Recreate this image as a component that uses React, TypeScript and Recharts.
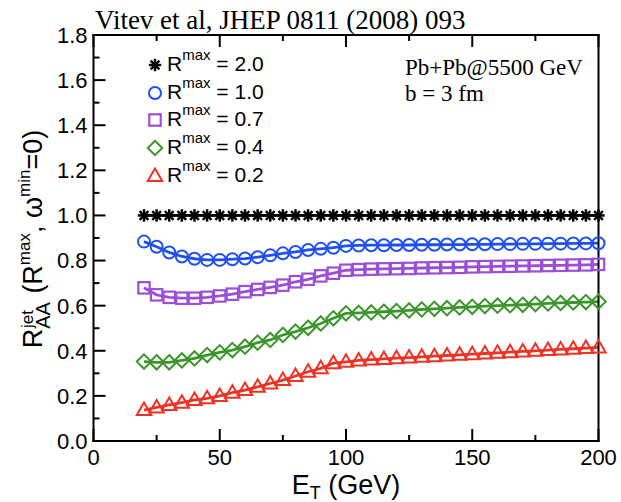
import React from 'react';
import { LineChart, Line, XAxis, YAxis, Legend, Customized } from 'recharts';

// ---- data ----
const energies = [20, 25, 30, 35, 40, 45, 50, 55, 60, 65, 70, 75, 80, 85, 90, 95, 100, 105, 110, 115, 120, 125, 130, 135, 140, 145, 150, 155, 160, 165, 170, 175, 180, 185, 190, 195, 200];

const rmax20 = [1.0, 1.0, 1.0, 1.0, 1.0, 1.0, 1.0, 1.0, 1.0, 1.0, 1.0, 1.0, 1.0, 1.0, 1.0, 1.0, 1.0, 1.0, 1.0, 1.0, 1.0, 1.0, 1.0, 1.0, 1.0, 1.0, 1.0, 1.0, 1.0, 1.0, 1.0, 1.0, 1.0, 1.0, 1.0, 1.0, 1.0];
const rmax10 = [0.884, 0.861, 0.836, 0.818, 0.808, 0.803, 0.803, 0.806, 0.809, 0.815, 0.823, 0.832, 0.838, 0.847, 0.852, 0.857, 0.865, 0.867, 0.868, 0.868, 0.869, 0.869, 0.870, 0.870, 0.871, 0.871, 0.872, 0.872, 0.873, 0.873, 0.874, 0.874, 0.875, 0.875, 0.876, 0.876, 0.877];
const rmax07 = [0.679, 0.648, 0.637, 0.633, 0.633, 0.637, 0.643, 0.651, 0.662, 0.672, 0.681, 0.691, 0.706, 0.717, 0.732, 0.744, 0.757, 0.760, 0.762, 0.763, 0.764, 0.765, 0.767, 0.768, 0.769, 0.770, 0.772, 0.773, 0.774, 0.775, 0.776, 0.777, 0.778, 0.779, 0.780, 0.781, 0.783];
const rmax04 = [0.352, 0.349, 0.349, 0.357, 0.366, 0.381, 0.393, 0.403, 0.418, 0.436, 0.448, 0.470, 0.485, 0.502, 0.521, 0.544, 0.566, 0.568, 0.570, 0.573, 0.576, 0.579, 0.583, 0.586, 0.589, 0.592, 0.595, 0.598, 0.600, 0.602, 0.604, 0.607, 0.610, 0.612, 0.614, 0.616, 0.618];
const rmax02 = [0.137, 0.149, 0.160, 0.170, 0.182, 0.189, 0.200, 0.214, 0.226, 0.240, 0.255, 0.270, 0.288, 0.307, 0.322, 0.345, 0.351, 0.357, 0.361, 0.364, 0.367, 0.370, 0.373, 0.376, 0.379, 0.382, 0.385, 0.388, 0.391, 0.394, 0.397, 0.400, 0.403, 0.406, 0.409, 0.412, 0.415];

const xTicks = [0, 25, 50, 75, 100, 125, 150, 175, 200];
const xLabelTicks = [0, 50, 100, 150, 200];
const yTicks = [0, 0.1, 0.2, 0.3, 0.4, 0.5, 0.6, 0.7, 0.8, 0.9, 1.0, 1.1, 1.2, 1.3, 1.4, 1.5, 1.6, 1.7, 1.8];
const yLabelTicks = [0, 0.2, 0.4, 0.6, 0.8, 1.0, 1.2, 1.4, 1.6, 1.8];

const seriesLabels = ['2.0', '1.0', '0.7', '0.4', '0.2'];

const series = [
  { key: 'r20', values: rmax20, label: seriesLabels[0], color: '#000000', shape: 'star' },
  { key: 'r10', values: rmax10, label: seriesLabels[1], color: '#1f4ff0', shape: 'circle' },
  { key: 'r07', values: rmax07, label: seriesLabels[2], color: '#9b4fd8', shape: 'square' },
  { key: 'r04', values: rmax04, label: seriesLabels[3], color: '#3a962a', shape: 'diamond' },
  { key: 'r02', values: rmax02, label: seriesLabels[4], color: '#ee3324', shape: 'triangle' },
];

const data = energies.map((e, i) => {
  const row: any = { e };
  series.forEach((s) => { row[s.key] = s.values[i]; });
  return row;
});

const SANS = '"Liberation Sans", Arial, Helvetica, sans-serif';
const SERIF = '"Liberation Serif", "Times New Roman", serif';

function Marker({ shape, cx, cy, color }: any) {
  if (cx == null || cy == null) return null;
  switch (shape) {
    case 'star': {
      const r = 6.2;
      const d = r * 0.7071;
      return (
        <g stroke={color} strokeWidth={2.5} strokeLinecap="butt">
          <line x1={cx - r} y1={cy} x2={cx + r} y2={cy} />
          <line x1={cx} y1={cy - r} x2={cx} y2={cy + r} />
          <line x1={cx - d} y1={cy - d} x2={cx + d} y2={cy + d} />
          <line x1={cx - d} y1={cy + d} x2={cx + d} y2={cy - d} />
        </g>
      );
    }
    case 'circle':
      return <circle cx={cx} cy={cy} r={6} fill="none" stroke={color} strokeWidth={2} />;
    case 'square':
      return <rect x={cx - 5.7} y={cy - 5.7} width={11.4} height={11.4} fill="none" stroke={color} strokeWidth={2.2} />;
    case 'diamond': {
      const h = 7.2;
      return <polygon points={`${cx},${cy - h} ${cx + h},${cy} ${cx},${cy + h} ${cx - h},${cy}`} fill="none" stroke={color} strokeWidth={2} />;
    }
    case 'triangle': {
      const w = 7.2;
      return <polygon points={`${cx},${cy - 7.5} ${cx + w},${cy + 5} ${cx - w},${cy + 5}`} fill="none" stroke={color} strokeWidth={2} strokeLinejoin="miter" />;
    }
    default:
      return null;
  }
}

const isMajorY = (v: number) => yLabelTicks.some((t) => Math.abs(t - v) < 1e-6);
const isMajorX = (v: number) => xLabelTicks.includes(v);

const LeftTick = (props: any) => {
  const { x, y, payload } = props;
  const major = isMajorY(payload.value);
  return (
    <g>
      <line x1={x} y1={y} x2={x + (major ? 12 : 6)} y2={y} stroke="#000" strokeWidth={2} />
      {major && (
        <text x={x - 6} y={y} dy="0.36em" textAnchor="end" fontFamily={SANS} fontSize={22} fill="#000">
          {payload.value.toFixed(1)}
        </text>
      )}
    </g>
  );
};

const RightTick = (props: any) => {
  const { x, y, payload } = props;
  const major = isMajorY(payload.value);
  return <line x1={x} y1={y} x2={x - (major ? 12 : 6)} y2={y} stroke="#000" strokeWidth={2} />;
};

const BottomTick = (props: any) => {
  const { x, y, payload } = props;
  const major = isMajorX(payload.value);
  return (
    <g>
      <line x1={x} y1={y} x2={x} y2={y - (major ? 12 : 6)} stroke="#000" strokeWidth={2} />
      {major && (
        <text x={x} y={y + 24} textAnchor="middle" fontFamily={SANS} fontSize={22} fill="#000">
          {payload.value}
        </text>
      )}
    </g>
  );
};

const TopTick = (props: any) => {
  const { x, y, payload } = props;
  const major = isMajorX(payload.value);
  return <line x1={x} y1={y} x2={x} y2={y + (major ? 12 : 6)} stroke="#000" strokeWidth={2} />;
};

const XLabel = (props: any) => {
  const vb = props.viewBox || { x: 93.5, y: 441, width: 505, height: 50 };
  const cx = vb.x + vb.width / 2;
  return (
    <text x={cx} y={vb.y + 53} textAnchor="middle" fontFamily={SANS} fontSize={27} fill="#000">
      <tspan>E</tspan>
      <tspan fontSize={18} dy={5}>T</tspan>
      <tspan dy={-5}> (GeV)</tspan>
    </text>
  );
};

const YLabel = (props: any) => {
  const vb = props.viewBox || { x: 33.5, y: 35, width: 60, height: 406 };
  const bx = vb.x + 8.5;
  const cy = vb.y + vb.height / 2 + 1;
  return (
    <text transform={`translate(${bx},${cy}) rotate(-90)`} textAnchor="middle" fontFamily={SANS} fontSize={27} fill="#000">
      <tspan>R</tspan>
      <tspan fontSize={20} dy={8}>AA</tspan>
      <tspan fontSize={17} dx={-26} dy={-17}>jet</tspan>
      <tspan dx={9} dy={9}> (R</tspan>
      <tspan fontSize={17} dy={-12}>max</tspan>
      <tspan dy={12}>, ω</tspan>
      <tspan fontSize={17} dy={-12}>min</tspan>
      <tspan dy={12}>=0)</tspan>
    </text>
  );
};

const LegendBox = () => (
  <div style={{ fontFamily: SANS, fontSize: 21, color: '#000', lineHeight: '24px' }}>
    {series.map((s) => (
      <div key={s.key} style={{ height: 27.8, display: 'flex', alignItems: 'center' }}>
        <svg width={18} height={18} style={{ display: 'block' }}>
          <Marker shape={s.shape} cx={9} cy={9} color={s.color} />
        </svg>
        <span style={{ marginLeft: 3.5, whiteSpace: 'nowrap' }}>
          R<span style={{ fontSize: 15, position: 'relative', top: -11 }}>max</span> = {s.label}
        </span>
      </div>
    ))}
  </div>
);

const Annotations = () => (
  <g>
    <text x={95} y={29} fontFamily={SERIF} fontSize={27} fill="#000">Vitev et al, JHEP 0811 (2008) 093</text>
    <text x={405} y={75} fontFamily={SERIF} fontSize={23} fill="#000">Pb+Pb@5500 GeV</text>
    <text x={405} y={100.7} fontFamily={SERIF} fontSize={23} fill="#000">b = 3 fm</text>
  </g>
);

const axisLineStyle = { stroke: '#000', strokeWidth: 2, strokeLinecap: 'square' as const };

export default function App() {
  return (
    <div style={{ position: 'absolute', left: 0, top: 0, width: 621, height: 502, background: '#fff' }}>
      <LineChart width={621} height={502} data={data} margin={{ top: 30, right: 12.5, bottom: 11, left: 33.5 }}>
        <XAxis xAxisId="b" dataKey="e" type="number" domain={[0, 200]} ticks={xTicks} interval={0}
          tickSize={0} tickMargin={0} tickLine={false} axisLine={axisLineStyle} tick={<BottomTick />} height={50}
          label={<XLabel />} />
        <XAxis xAxisId="t" orientation="top" dataKey="e" type="number" domain={[0, 200]} ticks={xTicks} interval={0}
          tickSize={0} tickMargin={0} tickLine={false} axisLine={axisLineStyle} tick={<TopTick />} height={5} />
        <YAxis yAxisId="l" type="number" domain={[0, 1.8]} ticks={yTicks} interval={0}
          tickSize={0} tickMargin={0} tickLine={false} axisLine={axisLineStyle} tick={<LeftTick />} width={60}
          label={<YLabel />} />
        <YAxis yAxisId="r" orientation="right" type="number" domain={[0, 1.8]} ticks={yTicks} interval={0}
          tickSize={0} tickMargin={0} tickLine={false} axisLine={axisLineStyle} tick={<RightTick />} width={10} />
        {series.map((s) => (
          <Line key={s.key} xAxisId="b" yAxisId="l" type="linear" dataKey={s.key} name={`Rmax = ${s.label}`}
            stroke={s.color} strokeWidth={2.8} isAnimationActive={false}
            dot={(p: any) => <Marker key={`${s.key}-${p.index}`} shape={s.shape} cx={p.cx} cy={p.cy} color={s.color} />}
            activeDot={false} />
        ))}
        <Legend layout="horizontal" verticalAlign="middle" align="center" content={<LegendBox />}
          wrapperStyle={{ position: 'absolute', top: 51, left: 145.5, width: 'auto', height: 'auto' }} />
        <Customized component={<Annotations />} />
      </LineChart>
    </div>
  );
}
